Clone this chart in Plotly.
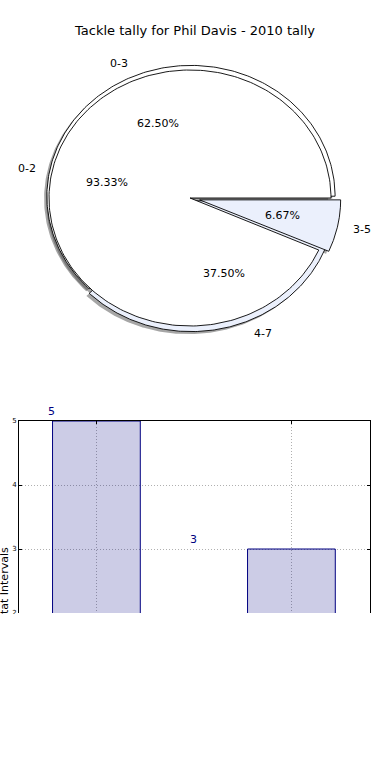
import numpy as np
import plotly.graph_objects as go

# ---------------- data ----------------
title_text = "Tackle tally for Phil Davis - 2010 tally"
inner_labels = ["0-2", "3-5"]
inner_values = [14, 1]
outer_labels = ["0-3", "4-7"]
outer_values = [5, 3]
bar_positions = [0, 1]
bar_values = [5, 3]
y_ticks = [2, 3, 4, 5]
y_label = "Stat Intervals"

# ---------------- style ----------------
W, H = 390, 614
FONT = "DejaVu Sans"
wedge_colors = ["#ffffff", "#ebf0fc"]
inner_radius = 1.0
inner_offsets = [(0.0, 0.0), "explode:0.07"]
outer_radius = 1.022
outer_offsets = [(0.007, 0.014), (0.008, -0.022)]
shadow_fill = "rgba(77,77,77,0.5)"
bar_fill = "rgba(0,0,128,0.2)"
bar_edge = "#000080"
grid_col = "#b0b0b0"
Y_MIN, Y_MAX = 2, 5

fig = go.Figure()


def pie_geometry(values, radius, offsets):
    total = float(sum(values))
    out = []
    start = 0.0
    for v, off in zip(values, offsets):
        span = 360.0 * v / total
        mid = np.deg2rad(start + span / 2)
        if isinstance(off, str):
            e = float(off.split(":")[1])
            cx, cy = e * np.cos(mid), e * np.sin(mid)
        else:
            cx, cy = off
        t = np.deg2rad(np.linspace(start, start + span, 240))
        xs = np.concatenate([[cx], cx + radius * np.cos(t), [cx]])
        ys = np.concatenate([[cy], cy + radius * np.sin(t), [cy]])
        out.append(dict(xs=xs, ys=ys, mid=mid, cx=cx, cy=cy, pct=100.0 * v / total))
        start += span
    return out


outer = pie_geometry(outer_values, outer_radius, outer_offsets)
inner = pie_geometry(inner_values, inner_radius, inner_offsets)

# shadows below all wedges
for geo in outer + inner:
    fig.add_trace(go.Scatter(x=geo["xs"] - 0.02, y=geo["ys"] - 0.02, mode="lines",
                             fill="toself", fillcolor=shadow_fill, line=dict(width=0),
                             hoverinfo="skip", showlegend=False, xaxis="x", yaxis="y"))
for geos in (outer, inner):
    for geo, col in zip(geos, wedge_colors):
        fig.add_trace(go.Scatter(x=geo["xs"], y=geo["ys"], mode="lines",
                                 fill="toself", fillcolor=col,
                                 line=dict(color="black", width=0.9),
                                 hoverinfo="skip", showlegend=False, xaxis="x", yaxis="y"))

annotations = []
for geos, labels, radius in ((inner, inner_labels, inner_radius),
                             (outer, outer_labels, outer_radius)):
    for geo, lab in zip(geos, labels):
        lx = geo["cx"] + 1.1 * radius * np.cos(geo["mid"])
        ly = geo["cy"] + 1.1 * radius * np.sin(geo["mid"])
        annotations.append(dict(x=lx, y=ly, xref="x", yref="y", text=lab, showarrow=False,
                                xanchor="left" if lx > 0 else "right", yanchor="middle",
                                font=dict(family=FONT, size=11, color="black")))
        px = geo["cx"] + 0.6 * radius * np.cos(geo["mid"])
        py = geo["cy"] + 0.6 * radius * np.sin(geo["mid"])
        annotations.append(dict(x=px, y=py, xref="x", yref="y", text="%.2f%%" % geo["pct"],
                                showarrow=False, xanchor="center", yanchor="middle",
                                font=dict(family=FONT, size=11, color="black")))

# bars
fig.add_trace(go.Bar(x=bar_positions, y=bar_values, width=0.45,
                     marker=dict(color=bar_fill, line=dict(color=bar_edge, width=1)),
                     hoverinfo="skip", showlegend=False, xaxis="x2", yaxis="y2"))
bar_label_x = [-0.23, 0.5]
for lx, v in zip(bar_label_x, bar_values):
    annotations.append(dict(x=lx, y=(v + 0.15 - Y_MIN) / (Y_MAX - Y_MIN),
                            xref="x2", yref="y2 domain", text=str(v),
                            showarrow=False, xanchor="center", yanchor="middle",
                            font=dict(family=FONT, size=11, color="#000080")))

annotations.append(dict(x=4 / W, y=1 - 584 / H, xref="paper", yref="paper", text=y_label,
                        textangle=-90, showarrow=False, xanchor="center", yanchor="middle",
                        font=dict(family=FONT, size=11, color="black")))

fig.update_layout(
    width=W, height=H,
    margin=dict(l=0, r=0, t=0, b=0, autoexpand=False),
    paper_bgcolor="white", plot_bgcolor="white",
    title=dict(text=title_text, x=0.5, xanchor="center", y=1 - 30 / H, yanchor="middle",
               font=dict(family=FONT, size=13, color="black")),
    xaxis=dict(domain=[13.75 / W, 366.25 / W], range=[-1.25, 1.25], visible=False,
               fixedrange=True, automargin=False),
    yaxis=dict(domain=[1 - 358 / H, 1 - 38 / H], range=[-1.25, 1.25], visible=False,
               fixedrange=True, automargin=False),
    xaxis2=dict(domain=[19 / W, 370 / W], range=[-0.397, 1.403], anchor="y2", side="top",
                showline=True, linecolor="black", linewidth=1, ticks="inside", ticklen=3,
                tickcolor="black", tickvals=bar_positions, showticklabels=False,
                showgrid=True, gridcolor=grid_col, griddash="1px,2px", gridwidth=1,
                zeroline=False, fixedrange=True, automargin=False),
    yaxis2=dict(domain=[1 - 613 / H, 1 - 421 / H], range=[Y_MIN, Y_MAX], anchor="x2",
                showline=True, mirror="ticks", linecolor="black", linewidth=1,
                ticks="inside", ticklen=3, tickcolor="black", tickvals=y_ticks,
                tickfont=dict(family=FONT, size=7, color="black"),
                ticklabeloverflow="allow", automargin=False,
                showgrid=True, gridcolor=grid_col, griddash="1px,2px", gridwidth=1,
                zeroline=False, fixedrange=True),
    annotations=annotations,
)

fig.write_html("out.html", config={"displayModeBar": False},
               post_script="document.body.style.margin='0';")
